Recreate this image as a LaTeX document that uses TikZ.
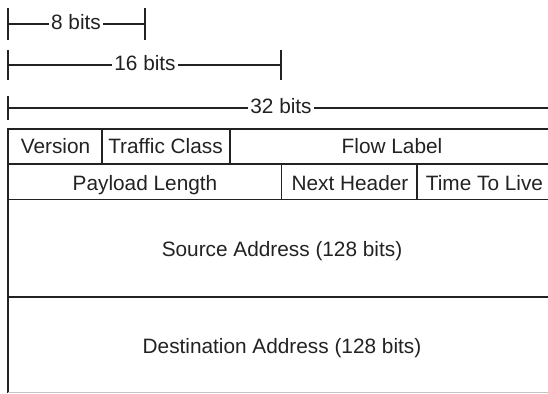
\documentclass[tikz,border=0pt]{standalone}
\usepackage{fontspec}
\setmainfont{Liberation Sans}
\definecolor{ink}{HTML}{222222}
\definecolor{rule}{HTML}{C4C4C4}
\begin{document}
\begin{tikzpicture}[x=1pt,y=-1pt,
  line/.style={draw=ink,line width=1.9pt},
  tick/.style={draw=ink,line width=1.9pt},
  field/.style={text=ink,font=\fontsize{20.8}{25}\selectfont,inner sep=0pt,anchor=base},
  rulerlabel/.style={field,fill=white,inner xsep=2pt,inner ysep=1pt}]
\useasboundingbox (0,0) rectangle (548,393);
\clip (0,0) rectangle (548,393);

% ---- bit-width rulers ----
\coordinate (r8a) at (8,24);   \coordinate (r8b) at (145,24);
\coordinate (r16a) at (8,65);  \coordinate (r16b) at (281,65);
\coordinate (r32a) at (8,108); \coordinate (r32b) at (554,108);

\draw[tick] (8,8) -- (8,40);   \draw[tick] (145,8) -- (145,40);
\draw[tick] (8,50) -- (8,80);  \draw[tick] (281,50) -- (281,80);
\draw[tick] (8,96) -- (8,120);

\draw[line] (r8a) -- (r8b);
\draw[line] (r16a) -- (r16b);
\draw[line] (r32a) -- (r32b);
\node[rulerlabel] (l8)  at (76,29.5)  {8 bits};
\node[rulerlabel] (l16) at (145,71)   {16 bits};
\node[rulerlabel] (l32) at (281,113.5){32 bits};

% ---- header table ----
\draw[line] (8,129) -- (554,129);
\draw[line] (8,164) -- (554,164);
\draw[line] (8,199.5) -- (554,199.5);
\draw[line] (8,297) -- (554,297);
\draw[line] (8,128) -- (8,393);
\draw[line] (102,129) -- (102,164);
\draw[line] (230,129) -- (230,164);
\draw[line] (281.5,164) -- (281.5,199.5);
\draw[line] (417,164) -- (417,199.5);
\draw[draw=rule,line width=1.2pt] (8,392.2) -- (554,392.2);

% ---- field names ----
\node[field] (ver)  at (55.5,153.5)  {Version};
\node[field] (tc)   at (165.5,153.5) {Traffic Class};
\node[field] (flow) at (392,153.5)   {Flow Label};
\node[field] (plen) at (145,190)     {Payload Length};
\node[field] (nh)   at (350,190)     {Next Header};
\node[field] (ttl)  at (484.5,190)   {Time To Live};
\node[field] (src)  at (282,256.5)   {Source Address (128 bits)};
\node[field] (dst)  at (282,353)     {Destination Address (128 bits)};
\end{tikzpicture}
\end{document}
